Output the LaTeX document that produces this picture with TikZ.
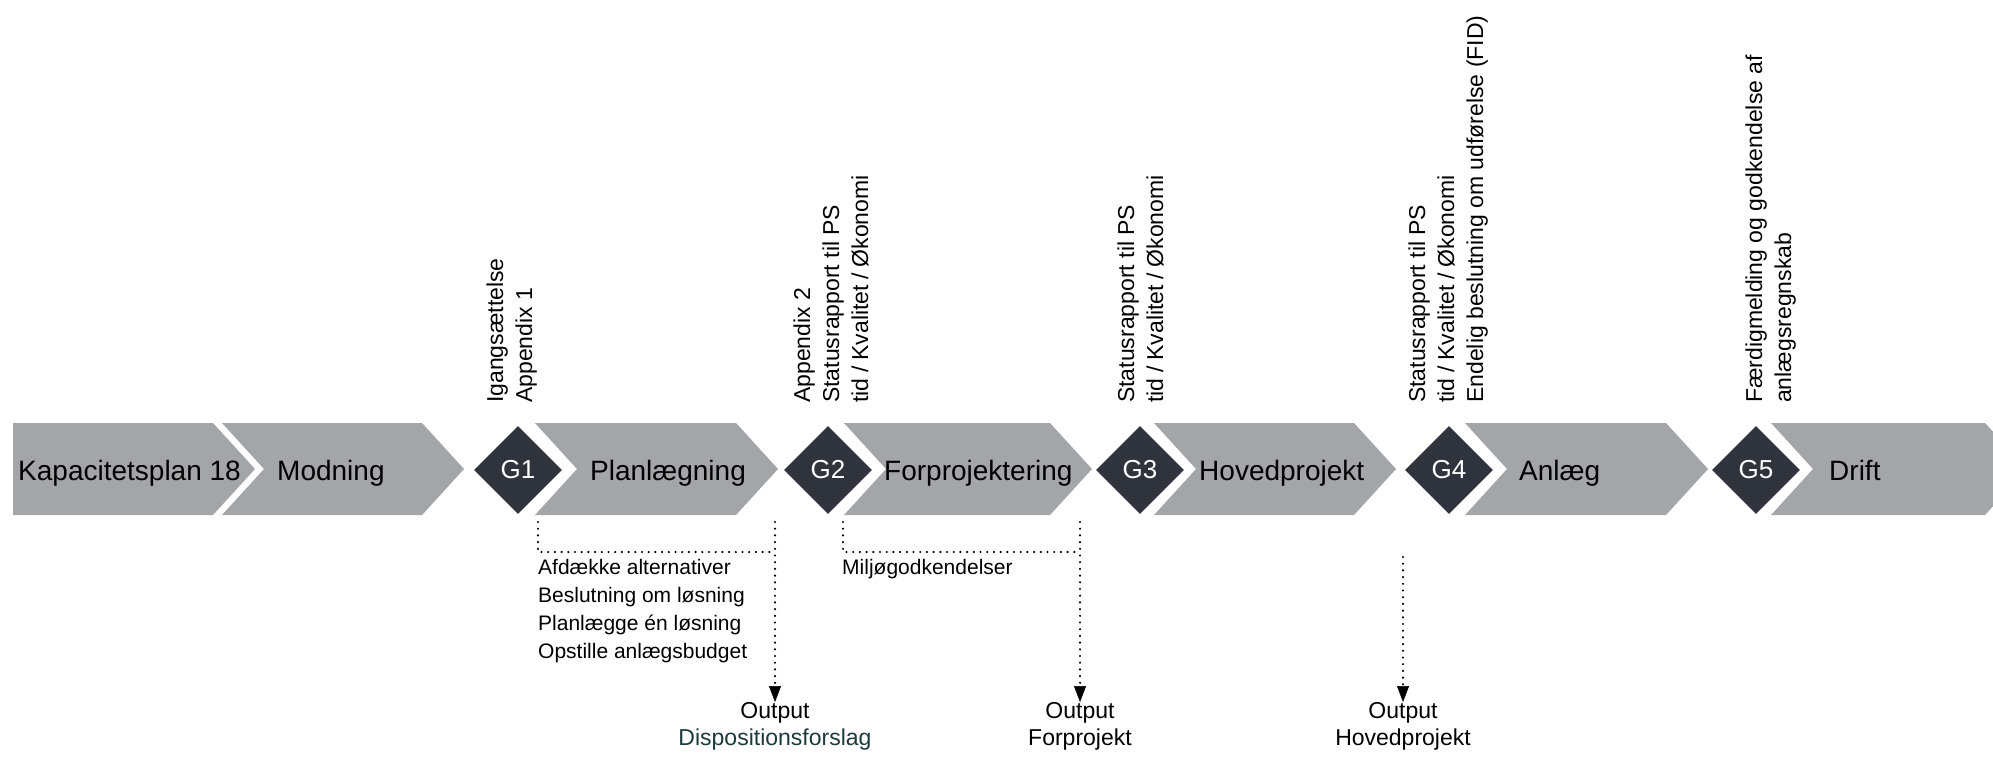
\documentclass[tikz,border=0pt]{standalone}
\usepackage{fontspec}
\setmainfont{Liberation Sans}
\usetikzlibrary{arrows.meta,shapes.geometric}

\definecolor{bandgray}{RGB}{163,165,168}
\definecolor{gatedark}{RGB}{46,51,60}
\definecolor{outteal}{RGB}{28,58,60}

\newcommand{\slsep}{\kern0.25em/\kern0.25em}

\begin{document}
\begin{tikzpicture}[x=1pt,y=-1pt,
  phase/.style={fill=bandgray},
  gatenode/.style={diamond, fill=gatedark, text=white, inner sep=0pt,
    minimum width=88pt, minimum height=88pt,
    font=\fontsize{26}{30}\selectfont},
  phasetext/.style={anchor=base west, inner sep=0pt,
    font=\fontsize{28}{34}\selectfont},
  vlabel/.style={rotate=90, anchor=base west, inner sep=0pt,
    font=\fontsize{23}{28}\selectfont},
  listtext/.style={anchor=north west, inner sep=0pt, align=left,
    font=\fontsize{21}{28}\selectfont},
  outtext/.style={anchor=north, inner sep=0pt, align=center,
    font=\fontsize{23}{27}\selectfont},
  dotline/.style={line width=2.4pt, line cap=round, dash pattern=on 0pt off 6.7pt},
  dotarrow/.style={dotline, -{Triangle[width=12pt,length=16pt,line width=0.5pt]}}
]
\useasboundingbox (0,0) rectangle (1993,761);
\clip (0,0) rectangle (1993,761);

% first phase: flat left end
\fill[phase] (13,423) -- (213,423) -- (255,469) -- (213,515) -- (13,515) -- cycle;
% notched chevrons: left edge / right shoulder
\foreach \a/\b in {222/422, 535/736, 844/1050, 1154/1354, 1465/1666, 1771/1985}
  \fill[phase] (\a,423) -- (\b,423) -- ({\b+42},469) -- (\b,515)
               -- (\a,515) -- ({\a+42},469) -- cycle;

% phase names
\node[phasetext] (kap)  at (18,480)   {Kapacitetsplan 18};
\node[phasetext] (mod)  at (277,480)  {Modning};
\node[phasetext] (plan) at (590,480)  {Planlægning};
\node[phasetext] (forp) at (884,480)  {Forprojektering};
\node[phasetext] (hov)  at (1199,480) {Hovedprojekt};
\node[phasetext] (anl)  at (1519,480) {Anlæg};
\node[phasetext] (dri)  at (1829,480) {Drift};

% gates
\node[gatenode] (g1) at (518,470)  {G1};
\node[gatenode] (g2) at (828,470)  {G2};
\node[gatenode] (g3) at (1140,470) {G3};
\node[gatenode] (g4) at (1449,470) {G4};
\node[gatenode] (g5) at (1756,470) {G5};

% gate requirements
\node[vlabel] (g1a) at (503,403)  {Igangsættelse};
\node[vlabel] (g1b) at (532,403)  {Appendix 1};
\node[vlabel] (g2a) at (810,403)  {Appendix 2};
\node[vlabel] (g2b) at (839,403)  {Statusrapport til PS};
\node[vlabel] (g2c) at (868,403)  {tid\slsep Kvalitet\slsep Økonomi};
\node[vlabel] (g3a) at (1134,403) {Statusrapport til PS};
\node[vlabel] (g3b) at (1163,403) {tid\slsep Kvalitet\slsep Økonomi};
\node[vlabel] (g4a) at (1425,403) {Statusrapport til PS};
\node[vlabel] (g4b) at (1454,403) {tid\slsep Kvalitet\slsep Økonomi};
\node[vlabel] (g4c) at (1483,403) {Endelig beslutning om udførelse (FID)};
\node[vlabel] (g5a) at (1762,403) {Færdigmelding og godkendelse af};
\node[vlabel] (g5b) at (1791,403) {anlægsregnskab};

% activities below the phases
\node[listtext] (planact) at (538,559)
  {Afdække alternativer\\Beslutning om løsning\\Planlægge én løsning\\Opstille anlægsbudget};
\node[listtext] (forpact) at (842,559) {Miljøgodkendelser};

% outputs
\node[outtext] (out1) at (775,702)  {Output\\\textcolor{outteal}{Dispositionsforslag}};
\node[outtext] (out2) at (1080,702) {Output\\Forprojekt};
\node[outtext] (out3) at (1403,702) {Output\\Hovedprojekt};

% dotted brackets and output arrows
\coordinate (planL) at (538,522);
\coordinate (planR) at (775,522);
\coordinate (forpL) at (843,522);
\coordinate (forpR) at (1080,522);
\coordinate (hovR)  at (1403,557);

\draw[dotline] (planL) |- (planR |- 0,552);
\draw[dotarrow] (planR) -- (out1.north);
\draw[dotline] (forpL) |- (forpR |- 0,552);
\draw[dotarrow] (forpR) -- (out2.north);
\draw[dotarrow] (hovR) -- (out3.north);
\end{tikzpicture}
\end{document}
